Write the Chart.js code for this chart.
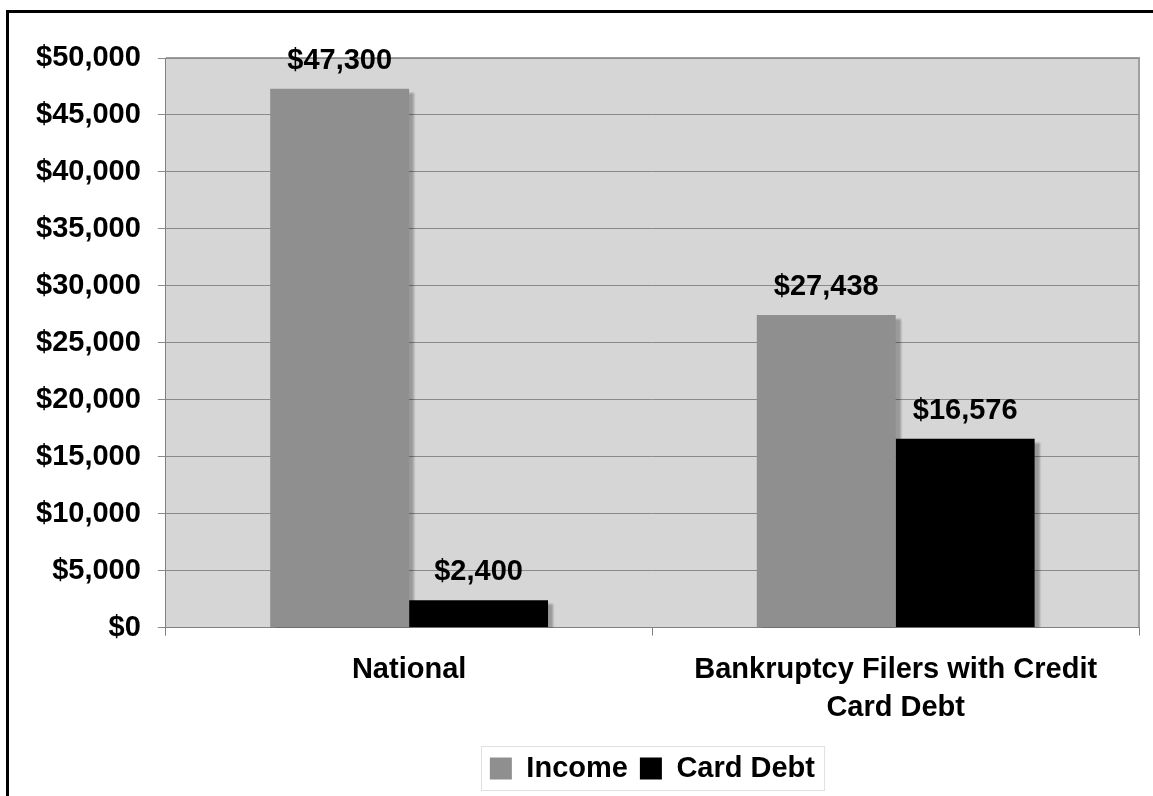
<!DOCTYPE html>
<html>
<head>
<meta charset="utf-8">
<script src="https://cdn.jsdelivr.net/npm/chart.js@4.4.1/dist/chart.umd.min.js"></script>
<style>
  html, body { margin: 0; padding: 0; background: #fff; overflow: hidden; }
  #frame { position: absolute; left: 6px; top: 10px; width: 1300px; height: 900px; border: 3px solid #000; }
  #wrap { position: absolute; left: 0; top: 0; width: 1153px; height: 796px; }
</style>
</head>
<body>
<div id="frame"></div>
<div id="wrap"><canvas id="bar-chart"></canvas></div>
<script>
const categories = ["National", ["Bankruptcy Filers with Credit", "Card Debt"]];
const incomeValues = [47300, 27438];
const cardDebtValues = [2400, 16576];
const seriesNames = ["Income", "Card Debt"];
const yTicks = [0, 5000, 10000, 15000, 20000, 25000, 30000, 35000, 40000, 45000, 50000];

const FONT = '"Liberation Sans", Arial, sans-serif';
const money = v => '$' + Number(v).toLocaleString('en-US');

// gray plot background + border
const plotBg = {
  id: 'plotBg',
  beforeDraw(chart) {
    const { ctx, chartArea: a } = chart;
    ctx.save();
    ctx.fillStyle = '#d6d6d6';
    ctx.fillRect(a.left, a.top, a.right - a.left, a.bottom - a.top);
    ctx.strokeStyle = '#a0a0a0';
    ctx.lineWidth = 2;
    ctx.beginPath();
    ctx.moveTo(a.left, a.top);
    ctx.lineTo(a.right, a.top);
    ctx.lineTo(a.right, a.bottom);
    ctx.stroke();
    ctx.restore();
  }
};

// drop shadow behind bars
const barShadow = {
  id: 'barShadow',
  beforeDatasetDraw(chart) {
    const ctx = chart.ctx;
    ctx.save();
    ctx.shadowColor = 'rgba(0,0,0,0.28)';
    ctx.shadowBlur = 2;
    ctx.shadowOffsetX = 5;
    ctx.shadowOffsetY = 4;
  },
  afterDatasetDraw(chart) {
    chart.ctx.restore();
  }
};

// value labels above the bars
const valueLabels = {
  id: 'valueLabels',
  afterDatasetsDraw(chart) {
    const ctx = chart.ctx;
    ctx.save();
    ctx.font = 'bold 29px ' + FONT;
    ctx.fillStyle = '#000';
    ctx.textAlign = 'center';
    ctx.textBaseline = 'alphabetic';
    chart.data.datasets.forEach((ds, i) => {
      chart.getDatasetMeta(i).data.forEach((bar, j) => {
        ctx.fillText(money(ds.data[j]), bar.x, bar.y - 20);
      });
    });
    ctx.restore();
  }
};

// thin box around the legend
const legendBox = {
  id: 'legendBox',
  afterDraw(chart) {
    const boxes = chart.legend.legendHitBoxes;
    if (!boxes || !boxes.length) return;
    const l = Math.min(...boxes.map(b => b.left));
    const r = Math.max(...boxes.map(b => b.left + b.width));
    const t = Math.min(...boxes.map(b => b.top));
    const b = Math.max(...boxes.map(b => b.top + b.height));
    const ctx = chart.ctx;
    ctx.save();
    ctx.strokeStyle = '#e0e0e0';
    ctx.lineWidth = 1;
    ctx.strokeRect(Math.round(l - 9) + 0.5, Math.round(t - 8) + 0.5, r - l + 18, b - t + 15);
    ctx.restore();
  }
};

new Chart(document.getElementById('bar-chart'), {
  type: 'bar',
  data: {
    labels: categories,
    datasets: [
      { label: seriesNames[0], data: incomeValues, backgroundColor: '#8f8f8f' },
      { label: seriesNames[1], data: cardDebtValues, backgroundColor: '#000000' }
    ]
  },
  options: {
    responsive: true,
    maintainAspectRatio: false,
    animation: false,
    layout: { padding: { left: 19, right: 14, top: 58, bottom: 3 } },
    datasets: { bar: { categoryPercentage: 0.571, barPercentage: 1.0 } },
    scales: {
      x: {
        afterFit(scale) { scale.height -= 1; },
        grid: { display: true, drawOnChartArea: false, color: '#808080', tickLength: 8 },
        border: { color: '#808080', width: 1 },
        ticks: { color: '#000', font: { family: FONT, size: 29, weight: 'bold', lineHeight: 1.3 }, padding: 16, maxRotation: 0 }
      },
      y: {
        min: 0,
        max: 50000,
        afterBuildTicks(scale) { scale.ticks = yTicks.map(v => ({ value: v })); },
        grid: { color: '#8a8a8a', lineWidth: 1, tickLength: 8 },
        border: { color: '#808080', width: 1 },
        ticks: { color: '#000', font: { family: FONT, size: 29, weight: 'bold' }, padding: 17, callback: v => money(v) }
      }
    },
    plugins: {
      tooltip: { enabled: false },
      legend: {
        position: 'bottom',
        fullSize: false,
        labels: {
          color: '#000',
          font: { family: FONT, size: 29, weight: 'bold' },
          boxWidth: 22,
          boxHeight: 22,
          padding: 12
        }
      }
    }
  },
  plugins: [plotBg, barShadow, valueLabels, legendBox]
});
</script>
</body>
</html>
